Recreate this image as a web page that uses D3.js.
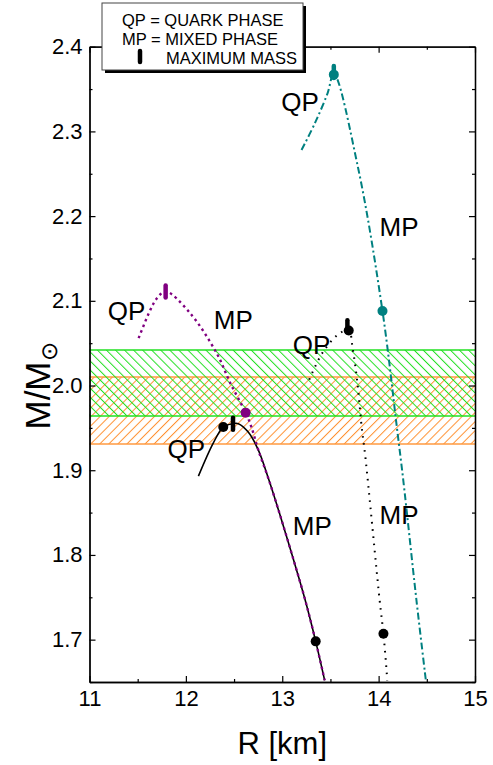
<!DOCTYPE html>
<html>
<head>
<meta charset="utf-8">
<script src="https://cdn.jsdelivr.net/npm/d3@7"></script>
<style>
  body { margin: 0; background: #fff; }
  text { font-family: Arial, "Liberation Sans", sans-serif; }
</style>
</head>
<body>
<div id="container"></div>
<script>
// ---- data (R [km], M/Msun) ----
const blackSolid = [[12.13,1.893],[12.284,1.932],[12.388,1.951],[12.489,1.955],[12.544,1.955],[12.647,1.945],[12.751,1.924],[12.86,1.889],[12.98,1.846],[13.11,1.797],[13.235,1.748],[13.347,1.698],[13.44,1.652]]
const purpleDotted = [[11.51,2.056],[11.63,2.089],[11.70,2.103],[11.79,2.111],[12.04,2.086],[12.32,2.038],[12.46,2.003],[12.62,1.968],[12.68,1.951],[12.751,1.924],[12.86,1.889],[12.98,1.846],[13.11,1.797],[13.235,1.748],[13.347,1.698],[13.44,1.652]]
const blackDotted = [[13.28,2.007],[13.425,2.040],[13.60,2.062],[13.69,2.065],[13.73,2.044],[13.78,2.003],[13.825,1.950],[13.86,1.918],[14.01,1.747],[14.05,1.707],[14.09,1.652]]
const tealDashDot = [[13.20,2.278],[13.34,2.310],[13.47,2.345],[13.535,2.368],[13.785,2.258],[14.04,2.088],[14.19,1.950],[14.255,1.889],[14.39,1.749],[14.49,1.652]]

const dotsBlack = [[12.388,1.951],[13.347,1.698],[13.69,2.065],[14.05,1.707]]
const dotsPurple = [[12.62,1.968]]
const dotsTeal = [[13.535,2.367],[14.04,2.088]]

const maxMass = [[12.489,1.955,"black"],[13.676,2.070,"black"],[11.79,2.111,"#800080"],[13.535,2.370,"#008080"]]

const bandGreen = [1.964, 2.042]
const bandOrange = [1.931, 2.010]

const phaseLabels = [["QP",12.99,2.324],["MP",14.01,2.176],["QP",11.19,2.077],["MP",12.29,2.067],["QP",13.11,2.037],["QP",11.81,1.915],["MP",13.11,1.824],["MP",14.01,1.836]]

const xTicks = [11,12,13,14,15]
const xMinor = [11.5,12.5,13.5,14.5]
const yTicks = [1.7,1.8,1.9,2.0,2.1,2.2,2.3,2.4]
const yMinor = [1.65,1.75,1.85,1.95,2.05,2.15,2.25,2.35]

const legendLines = ["QP = QUARK PHASE","MP = MIXED PHASE","MAXIMUM MASS"]

// ---- chart ----
const width = 493, height = 765
const pLeft = 89.5, pRight = 475, pTop = 46.7, pBottom = 682

const x = d3.scaleLinear().domain([11,15]).range([pLeft,pRight])
const y = d3.scaleLinear().domain([1.65,2.4]).range([pBottom,pTop])

const svg = d3.create("svg")
    .attr("width", width)
    .attr("height", height)

const defs = svg.append("defs")
defs.append("clipPath").attr("id","plot")
    .append("rect").attr("x",pLeft).attr("y",pTop).attr("width",pRight-pLeft).attr("height",pBottom-pTop)

function hatch(id, color, angle){
    const p = defs.append("pattern")
        .attr("id", id)
        .attr("patternUnits","userSpaceOnUse")
        .attr("width", 6.4).attr("height", 10)
        .attr("patternTransform", `rotate(${angle})`)
    p.append("line").attr("x1",0.5).attr("y1",0).attr("x2",0.5).attr("y2",10)
        .attr("stroke", color).attr("stroke-width", 1)
}
hatch("hGreen", "#22e022", -45)
hatch("hOrange", "#ff9030", 45)

// bands
const bands = [[bandOrange,"hOrange","#ff9a40"],[bandGreen,"hGreen","#22e022"]]
bands.forEach(([b,pat,col]) => {
    svg.append("rect")
        .attr("x", pLeft).attr("width", pRight-pLeft)
        .attr("y", y(b[1])).attr("height", y(b[0]) - y(b[1]))
        .attr("fill", `url(#${pat})`)
    b.forEach(v => svg.append("line")
        .attr("x1", pLeft).attr("x2", pRight)
        .attr("y1", y(v)).attr("y2", y(v))
        .attr("stroke", col).attr("stroke-width", 1.5))
})

// curves
const line = d3.line()
    .x(d => x(d[0]))
    .y(d => y(d[1]))
    .curve(d3.curveCatmullRom.alpha(0.5))

const g = svg.append("g").attr("clip-path","url(#plot)")

g.append("path").datum(blackSolid)
    .attr("d", line).attr("fill","none")
    .attr("stroke","black").attr("stroke-width",1.6)

g.append("path").datum(purpleDotted)
    .attr("d", line).attr("fill","none")
    .attr("stroke","#800080").attr("stroke-width",2.4)
    .attr("stroke-dasharray","2.5,3.5")

g.append("path").datum(blackDotted)
    .attr("d", line).attr("fill","none")
    .attr("stroke","black").attr("stroke-width",2)
    .attr("stroke-dasharray","1.6,5.6")

g.append("path").datum(tealDashDot)
    .attr("d", line).attr("fill","none")
    .attr("stroke","#008080").attr("stroke-width",2)
    .attr("stroke-dasharray","7,3,2,3")

// dots
const dotSets = [[dotsBlack,"black"],[dotsPurple,"#800080"],[dotsTeal,"#008080"]]
dotSets.forEach(([pts,col]) => {
    g.selectAll(null).data(pts).enter()
        .append("circle")
        .attr("cx", d => x(d[0])).attr("cy", d => y(d[1]))
        .attr("r", 5).attr("fill", col)
})

// maximum mass markers
g.selectAll(".mm").data(maxMass).enter()
    .append("line")
    .attr("class","mm")
    .attr("x1", d => x(d[0])).attr("x2", d => x(d[0]))
    .attr("y1", d => y(d[1]) - 6).attr("y2", d => y(d[1]) + 6)
    .attr("stroke", d => d[2]).attr("stroke-width", 4.5)
    .attr("stroke-linecap","round")

// phase labels
svg.selectAll(".lbl").data(phaseLabels).enter()
    .append("text")
    .attr("class","lbl")
    .attr("x", d => x(d[1])).attr("y", d => y(d[2]))
    .attr("font-size", 26)
    .text(d => d[0])

// axes
const fmt = d3.format(".1f")
svg.append("g").attr("transform",`translate(0,${pBottom})`)
    .call(d3.axisBottom(x).tickValues(xTicks).tickSize(-6).tickSizeOuter(0).tickPadding(8).tickFormat(d3.format("d")))
    .call(a => a.selectAll("text").attr("font-size",22).attr("fill","black"))
svg.append("g").attr("transform",`translate(0,${pBottom})`)
    .call(d3.axisBottom(x).tickValues(xMinor).tickSize(-3).tickSizeOuter(0).tickFormat(""))
svg.append("g").attr("transform",`translate(0,${pTop})`)
    .call(d3.axisTop(x).tickValues(xTicks).tickSize(-6).tickSizeOuter(0).tickFormat(""))
svg.append("g").attr("transform",`translate(0,${pTop})`)
    .call(d3.axisTop(x).tickValues(xMinor).tickSize(-3).tickSizeOuter(0).tickFormat(""))

svg.append("g").attr("transform",`translate(${pLeft},0)`)
    .call(d3.axisLeft(y).tickValues(yTicks).tickSize(-6).tickSizeOuter(0).tickPadding(7).tickFormat(fmt))
    .call(a => a.selectAll("text").attr("font-size",22).attr("fill","black"))
svg.append("g").attr("transform",`translate(${pLeft},0)`)
    .call(d3.axisLeft(y).tickValues(yMinor).tickSize(-3).tickSizeOuter(0).tickFormat(""))
svg.append("g").attr("transform",`translate(${pRight},0)`)
    .call(d3.axisRight(y).tickValues(yTicks).tickSize(-6).tickSizeOuter(0).tickFormat(""))
svg.append("g").attr("transform",`translate(${pRight},0)`)
    .call(d3.axisRight(y).tickValues(yMinor).tickSize(-3).tickSizeOuter(0).tickFormat(""))

svg.selectAll(".domain").attr("stroke","black").attr("stroke-width",1.3)
svg.selectAll(".tick line").attr("stroke","black").attr("stroke-width",1.2)

// axis titles
svg.append("text")
    .attr("x", (pLeft+pRight)/2).attr("y", 754)
    .attr("text-anchor","middle")
    .attr("font-size", 31)
    .text("R [km]")

const yt = svg.append("text")
    .attr("transform", `translate(50,386) rotate(-90)`)
    .attr("text-anchor","middle")
    .attr("font-size", 35)
yt.append("tspan").text("M/M")
yt.append("tspan").attr("font-size", 23).attr("dy", 7).text("⊙")

// legend
const lg = svg.append("g")
lg.append("rect").attr("x",105).attr("y",6).attr("width",201).attr("height",67).attr("fill","black")
lg.append("rect").attr("x",102).attr("y",3).attr("width",201).attr("height",67)
    .attr("fill","white").attr("stroke","#444").attr("stroke-width",1)
lg.selectAll(".lt").data(legendLines).enter()
    .append("text")
    .attr("class","lt")
    .attr("x", (d,i) => i < 2 ? 122 : 166)
    .attr("y", (d,i) => 26 + i*18.8)
    .attr("font-size", 16.5)
    .text(d => d)
lg.append("line").attr("x1",140).attr("x2",140).attr("y1",51).attr("y2",62)
    .attr("stroke","black").attr("stroke-width",4.5).attr("stroke-linecap","round")

document.querySelector("#container").appendChild(svg.node())
</script>
</body>
</html>
